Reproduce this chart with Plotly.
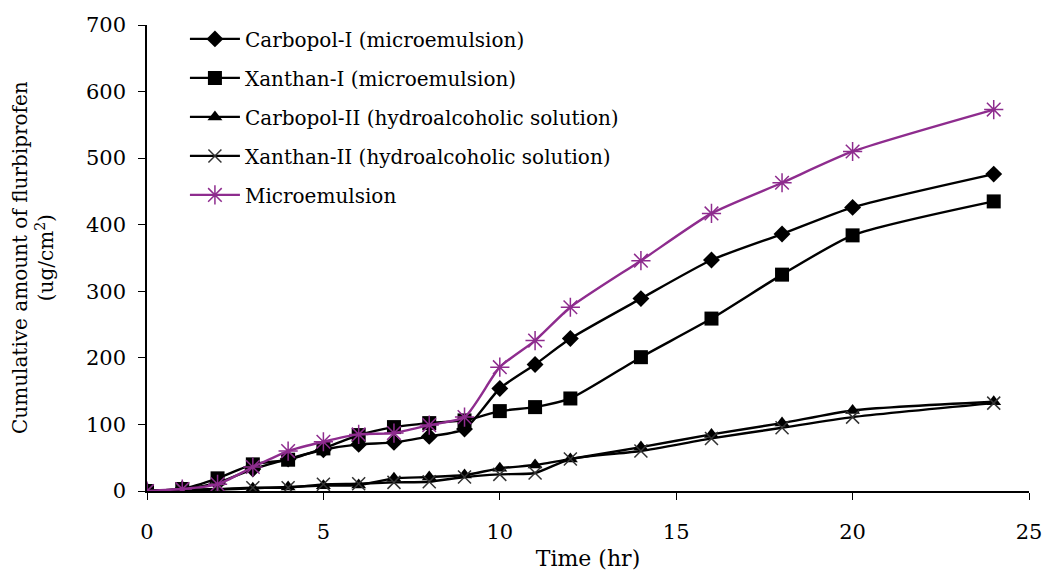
import plotly.graph_objects as go

time_hr = [0, 1, 2, 3, 4, 5, 6, 7, 8, 9, 10, 11, 12, 14, 16, 18, 20, 24]

carbopol_1 = [0, 3, 12, 33, 48, 62, 70, 73, 82, 93, 154, 190, 229, 289, 347, 386, 426, 476]
xanthan_1 = [0, 3, 19, 40, 47, 64, 84, 96, 102, 106, 120, 126, 139, 201, 259, 325, 384, 435]
carbopol_2 = [0, 1, 2, 4, 6, 8, 9, 19, 21, 24, 34, 39, 48, 66, 85, 102, 121, 134]
xanthan_2 = [0, 2, 3, 5, 5, 10, 11, 13, 14, 21, 25, 27, 48, 60, 79, 95, 111, 132]
microemulsion = [0, 3, 10, 36, 60, 74, 85, 87, 99, 111, 186, 226, 276, 346, 417, 463, 510, 573]

series_names = [
    "Carbopol-I (microemulsion)",
    "Xanthan-I (microemulsion)",
    "Carbopol-II (hydroalcoholic solution)",
    "Xanthan-II (hydroalcoholic solution)",
    "Microemulsion",
]

FONT = "DejaVu Serif"
PURPLE = "#8E2C8E"

fig = go.Figure()

styles = [
    (carbopol_1, dict(symbol="diamond", size=13, color="black")),
    (xanthan_1, dict(symbol="square", size=14, color="black")),
    (carbopol_2, dict(symbol="triangle-up", size=13, color="black")),
    (xanthan_2, dict(symbol="x-thin-open", size=13, color="#333333",
                     line=dict(width=1.5, color="#333333"))),
    (microemulsion, dict(symbol="asterisk-open", size=16, color=PURPLE,
                         line=dict(width=1.5, color=PURPLE))),
]

for i, (vals, mk) in enumerate(styles):
    line_color = PURPLE if i == 4 else "black"
    fig.add_trace(go.Scatter(
        x=time_hr, y=vals, name=series_names[i],
        mode="lines+markers",
        line=dict(color=line_color, width=2.4, shape="spline", smoothing=0.6),
        marker=mk,
        legendgroup=f"g{i}",
    ))

fig.add_annotation(
    text="Cumulative amount of flurbiprofen<br>(ug/cm<sup>2</sup>)",
    xref="paper", yref="paper", x=0, y=0.5, xshift=-114,
    xanchor="center", yanchor="middle", textangle=-90, showarrow=False,
    font=dict(family=FONT, size=20, color="black"),
)

fig.update_layout(
    width=1044, height=573,
    margin=dict(l=147, r=15, t=25, b=82, autoexpand=False),
    paper_bgcolor="white", plot_bgcolor="white",
    font=dict(family=FONT, size=20, color="black"),
    showlegend=True,
    legend=dict(
        x=0.043, y=1.012, xanchor="left", yanchor="top",
        bgcolor="rgba(0,0,0,0)",
        font=dict(family=FONT, size=20, color="black"),
        tracegroupgap=10,
        itemwidth=50,
    ),
    xaxis=dict(
        range=[0, 25], dtick=5, tick0=0,
        showline=True, linecolor="black", linewidth=1.5,
        ticks="outside", ticklen=7, tickcolor="black",
        showgrid=False, zeroline=False, automargin=False,
        ticklabelstandoff=14, ticklabeloverflow="allow",
        title=dict(text="Time (hr)", font=dict(family=FONT, size=22), standoff=8),
        tickfont=dict(family=FONT, size=21),
    ),
    yaxis=dict(
        range=[0, 700], dtick=100, tick0=0,
        showline=True, linecolor="black", linewidth=1.5,
        ticks="outside", ticklen=7, tickcolor="black",
        showgrid=False, zeroline=False, automargin=False,
        ticklabelstandoff=8, ticklabeloverflow="allow",
        tickfont=dict(family=FONT, size=21),
    ),
)

# remove the page's default 8px body margin so the 1044x573 figure fills the window exactly
fig.write_html(
    "out.html",
    config={"displayModeBar": False},
    post_script="document.body.style.margin='0';document.body.style.overflow='hidden';",
)
